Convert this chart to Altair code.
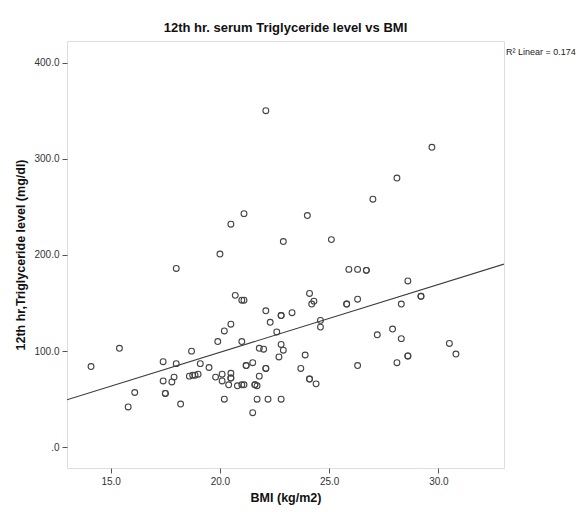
import altair as alt
import pandas as pd

# BMI (kg/m2) values
bmi = [14.1, 15.4, 15.8, 16.1, 17.4, 17.4, 17.5, 17.5, 17.8, 17.9,
       18.0, 18.0, 18.2, 18.6, 18.75, 18.86, 19.0, 18.7, 19.1, 19.5,
       19.8, 19.9, 20.0, 20.1, 20.1, 20.2, 20.2, 20.4, 20.5, 20.5,
       20.5, 20.5, 20.5, 20.7, 20.8, 21.0, 21.1, 21.0, 21.0, 21.1,
       21.1, 21.2, 21.2, 21.5, 21.5, 21.6, 21.6, 21.7, 21.7, 21.8,
       21.8, 22.0, 22.1, 22.1, 22.1, 22.1, 22.2, 22.3, 22.6, 22.7,
       22.8, 22.8, 22.8, 22.8, 22.9, 22.9, 23.3, 23.7, 23.9, 24.0,
       24.1, 24.1, 24.1, 24.2, 24.3, 24.4, 24.6, 24.6, 25.1, 25.8,
       25.8, 25.9, 26.3, 26.7, 26.7, 26.3, 26.3, 27.0, 27.2, 27.9,
       28.1, 28.1, 28.3, 28.3, 28.6, 28.6, 28.6, 29.2, 29.2, 29.7,
       30.5, 30.8]

# 12th hr serum triglyceride (mg/dl) values
tg = [84, 103, 42, 57, 89, 69, 56, 56, 68, 73,
      87, 186, 45, 74, 75, 75, 76, 100, 87, 83,
      73, 110, 201, 76, 69, 121, 50, 65, 77, 72,
      72, 128, 232, 158, 64, 65, 65, 110, 153, 153,
      243, 85, 85, 88, 36, 65, 65, 64, 50, 74,
      103, 102, 82, 82, 142, 350, 50, 130, 120, 94,
      107, 137, 137, 50, 101, 214, 140, 82, 96, 241,
      71, 71, 160, 149, 152, 66, 132, 125, 216, 149,
      149, 185, 185, 184, 184, 154, 85, 258, 117, 123,
      88, 280, 149, 113, 173, 95, 95, 157, 157, 312,
      108, 97]

x_ticks = [15, 20, 25, 30]
y_ticks = [0, 100, 200, 300, 400]
x_domain = [13, 33]
y_domain = [-21.5, 422.5]
r2_label = ["R\u00b2 Linear = 0.174"]

df = pd.DataFrame({"bmi": bmi, "tg": tg})

FONT = "Liberation Sans"
xscale = alt.Scale(domain=x_domain, nice=False, zero=False)
yscale = alt.Scale(domain=y_domain, nice=False, zero=False)

x_axis = alt.Axis(title="BMI (kg/m2)", values=x_ticks, format=".1f",
                  grid=False, domain=False, tickSize=5, tickColor="#555555",
                  labelFontSize=10, labelColor="#333333", labelFont=FONT,
                  labelPadding=3, titleFont=FONT, titleFontSize=12.5,
                  titleFontWeight="bold", titleColor="#111111", titlePadding=5)
y_axis = alt.Axis(title="12th hr,Triglyceride level (mg/dl)", values=y_ticks,
                  labelExpr="datum.value == 0 ? '.0' : format(datum.value, '.1f')",
                  grid=False, domain=False, tickSize=5, tickColor="#555555",
                  labelFontSize=10, labelColor="#333333", labelFont=FONT,
                  labelPadding=3, titleFont=FONT, titleFontSize=12.5,
                  titleFontWeight="bold", titleColor="#111111", titlePadding=6)

points = alt.Chart(df).mark_point(
    shape="circle", filled=False, size=34, color="#444444", strokeWidth=1.1, opacity=1
).encode(
    x=alt.X("bmi:Q", scale=xscale, axis=x_axis),
    y=alt.Y("tg:Q", scale=yscale, axis=y_axis),
)

fit = alt.Chart(df).transform_regression(
    "bmi", "tg", extent=x_domain
).mark_line(color="#3c3c3c", strokeWidth=1.1, clip=True).encode(
    x=alt.X("bmi:Q", scale=xscale),
    y=alt.Y("tg:Q", scale=yscale),
)

r2 = alt.Chart(pd.DataFrame({"label": r2_label})).mark_text(
    align="left", baseline="middle", dx=2, fontSize=9, font=FONT, color="#222222"
).encode(
    x=alt.datum(x_domain[1], scale=xscale),
    y=alt.datum(411, scale=yscale),
    text="label:N",
)

chart = alt.layer(points, fit, r2).properties(
    width=437, height=427,
    autosize=alt.AutoSizeParams(type="none"),
    padding={"left": 59, "top": 33, "right": 72, "bottom": 44},
    title=alt.TitleParams("12th hr. serum Triglyceride level vs BMI", font=FONT,
                          fontSize=13, fontWeight="bold", color="#111111",
                          anchor="middle", offset=6),
).configure_view(
    fill="#f0f0f0", stroke="#555555", strokeWidth=1
).configure(background="white")

chart.save("out.html", embed_options={"renderer": "svg", "actions": False})
